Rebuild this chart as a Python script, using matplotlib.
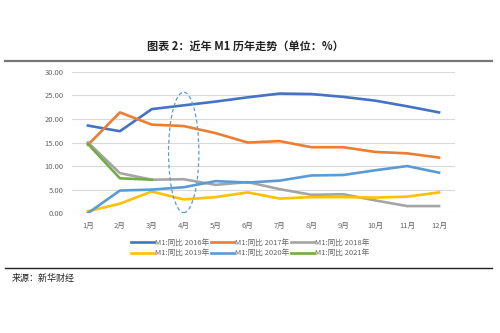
import matplotlib.pyplot as plt
from matplotlib.patches import Ellipse
from matplotlib.lines import Line2D

plt.rcParams['font.family'] = ['Noto Sans CJK SC', 'DejaVu Sans']

months = ['1月', '2月', '3月', '4月', '5月', '6月', '7月', '8月', '9月', '10月', '11月', '12月']

m1_2016 = [18.6, 17.4, 22.1, 22.9, 23.7, 24.6, 25.4, 25.3, 24.7, 23.9, 22.7, 21.4]
m1_2017 = [14.5, 21.4, 18.8, 18.5, 17.0, 15.0, 15.3, 14.0, 14.0, 13.0, 12.7, 11.8]
m1_2018 = [15.0, 8.5, 7.1, 7.2, 6.0, 6.6, 5.1, 3.9, 4.0, 2.7, 1.5, 1.5]
m1_2019 = [0.4, 2.0, 4.6, 2.9, 3.4, 4.4, 3.1, 3.4, 3.4, 3.3, 3.5, 4.4]
m1_2020 = [0.0, 4.8, 5.0, 5.5, 6.8, 6.5, 6.9, 8.0, 8.1, 9.1, 10.0, 8.6]
m1_2021 = [14.7, 7.4, 7.1]

series = [
    ('M1:同比 2016年', m1_2016, '#4472C4'),
    ('M1:同比 2017年', m1_2017, '#ED7D31'),
    ('M1:同比 2018年', m1_2018, '#A5A5A5'),
    ('M1:同比 2019年', m1_2019, '#FFC000'),
    ('M1:同比 2020年', m1_2020, '#5B9BD5'),
    ('M1:同比 2021年', m1_2021, '#70AD47'),
]

fig = plt.figure(figsize=(5, 3.33), dpi=100)
ax = fig.add_axes([0.144, 0.36, 0.766, 0.424])

for label, vals, color in series:
    ax.plot(range(len(vals)), vals, color=color, lw=1.9, label=label)

# dashed ring around April
ax.add_patch(Ellipse((3, 12.9), 0.95, 25.6, fill=False, ls=(0, (3, 2)),
                     ec='#5B9BD5', lw=0.9, zorder=5))

ax.set_xlim(-0.5, 11.5)
ax.set_ylim(0, 30)
ax.set_yticks(range(0, 31, 5))
ax.set_yticklabels(['%.2f' % v for v in range(0, 31, 5)])
ax.set_xticks(range(12))
ax.set_xticklabels(months)
ax.tick_params(length=0, labelsize=5.5, labelcolor='#666666', pad=6)
ax.grid(axis='y', color='#D9D9D9', lw=0.8)
ax.set_axisbelow(True)
for s in ax.spines.values():
    s.set_visible(False)

# legend fills column by column, so interleave to get rows of three years
order = [0, 3, 1, 4, 2, 5]
handles = [Line2D([], [], color=series[i][2], lw=1.9) for i in order]
labels = [series[i][0] for i in order]
fig.legend(handles, labels, ncol=3, loc='center',
           bbox_to_anchor=(0.5, 0.255), frameon=False, fontsize=5.5,
           handlelength=3.0, handletextpad=0.15, columnspacing=0.2,
           labelspacing=0.35, labelcolor='#666666')

fig.text(0.49, 0.86, '图表 2：近年 M1 历年走势（单位：%）', ha='center', va='center',
         fontsize=8, fontweight='bold', color='#222222')
fig.add_artist(Line2D([0.01, 0.984], [0.817, 0.817], color='#777777', lw=1.6))
fig.add_artist(Line2D([0.01, 0.984], [0.195, 0.195], color='#222222', lw=1.0))
fig.text(0.024, 0.165, '来源：新华财经', ha='left', va='center', fontsize=6.5,
         color='#222222')

fig.savefig('out.png', dpi=100)
